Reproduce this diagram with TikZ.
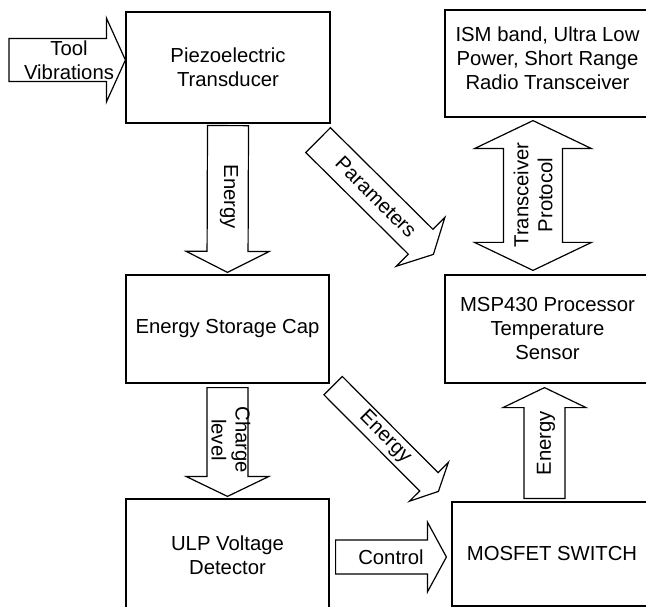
\documentclass[tikz,border=0pt]{standalone}
\usepackage{fontspec}
\setmainfont{Liberation Sans}
\usetikzlibrary{calc}

\begin{document}
\begin{tikzpicture}[x=1pt, y=-1pt, line width=1.2pt,
    every node/.style={font=\fontsize{20.3}{24}\selectfont},
    block/.style={draw, rectangle, align=center},
    fat/.style n args={3}{draw, fill=white, line join=miter, to path={
        let \p1=(\tikztostart), \p2=(\tikztotarget) in
        ($(\p1)!#1!90:(\p2)$)
        -- ($(\p2)!#3!(\p1)!#1!-90:(\p1)$)
        -- ($(\p2)!#3!(\p1)!#2!-90:(\p1)$)
        -- (\p2)
        -- ($(\p2)!#3!(\p1)!#2!90:(\p1)$)
        -- ($(\p2)!#3!(\p1)!#1!90:(\p1)$)
        -- ($(\p1)!#1!-90:(\p2)$) -- cycle}},
    fatboth/.style n args={3}{draw, fill=white, line join=miter, to path={
        let \p1=(\tikztostart), \p2=(\tikztotarget) in
        (\p1)
        -- ($(\p1)!#3!(\p2)!#2!90:(\p2)$)
        -- ($(\p1)!#3!(\p2)!#1!90:(\p2)$)
        -- ($(\p2)!#3!(\p1)!#1!-90:(\p1)$)
        -- ($(\p2)!#3!(\p1)!#2!-90:(\p1)$)
        -- (\p2)
        -- ($(\p2)!#3!(\p1)!#2!90:(\p1)$)
        -- ($(\p2)!#3!(\p1)!#1!90:(\p1)$)
        -- ($(\p1)!#3!(\p2)!#1!-90:(\p2)$)
        -- ($(\p1)!#3!(\p2)!#2!-90:(\p2)$) -- cycle}}]
\useasboundingbox (0,0) rectangle (646,607);
\clip (0,0) rectangle (646,607);

% Blocks
\node[block, minimum width=204, minimum height=111] (piezo) at (228,67.5) {Piezoelectric\\Transducer};
\node[block, minimum width=205, minimum height=107, text depth=10pt] (ism) at (547.5,63.5) {ISM band, Ultra Low\\Power, Short Range\\Radio Transceiver};
\node[block, minimum width=203, minimum height=108] (esc) at (227.5,329) {Energy Storage Cap};
\node[block, minimum width=205, minimum height=108] (msp) at (547.5,329) {MSP430 Processor\\Temperature\\Sensor};
\node[block, minimum width=203, minimum height=112] (ulp) at (227.5,555) {ULP Voltage\\Detector};
\node[block, minimum width=200, minimum height=104] (mosfet) at (552,554) {MOSFET SWITCH};

% Input
\coordinate (vib) at (9,60);
\draw[fat={21.5pt}{42pt}{19pt}] (vib) to (vib -| piezo.west);

% Block arrows
\draw[fat={20.5pt}{41.5pt}{21pt}] ([yshift=-2pt]piezo.south) to ([yshift=2pt]esc.north);
\draw[fat={17.5pt}{34.5pt}{18pt}] ($(piezo.south east)+(-12.5,16.5)$) to ($(msp.north west)+(-11,-20)$);
\draw[fatboth={29.5pt}{58.5pt}{28pt}] ($(ism.south)+(-14.5,3)$) to ($(msp.north)+(-14.5,-4)$);
\draw[fat={20.5pt}{41.5pt}{20pt}] ([yshift=-4pt]esc.south) to ([yshift=2pt]ulp.north);
\draw[fat={13pt}{27.5pt}{13.5pt}] ($(esc.south east)+(3.5,2)$) to ($(mosfet.north west)+(-13,-10)$);
\draw[fat={20.5pt}{41.5pt}{20pt}] ($(mosfet.north)+(-7.5,-3)$) to ($(msp.south)+(-3,4)$);
\draw[fat={17pt}{35pt}{19pt}] ($(ulp.east)+(6,2)$) to ($(mosfet.west)+(-5,3)$);

% Labels
\node[align=center] (vib-lbl) at (69,60) {Tool\\Vibrations};
\node[rotate=-90] (en1-lbl) at (229,197) {Energy};
\node[rotate=-45] (par-lbl) at (376,197) {Parameters};
\node[rotate=90, align=center] (trx-lbl) at (533,195) {Transceiver\\Protocol};
\node[rotate=-90, align=center] (chg-lbl) at (231,440) {Charge\\level};
\node[rotate=-45] (en2-lbl) at (385,437) {Energy};
\node[rotate=90] (en3-lbl) at (546,443) {Energy};
\node (ctl-lbl) at (391,557) {Control};

\end{tikzpicture}
\end{document}
